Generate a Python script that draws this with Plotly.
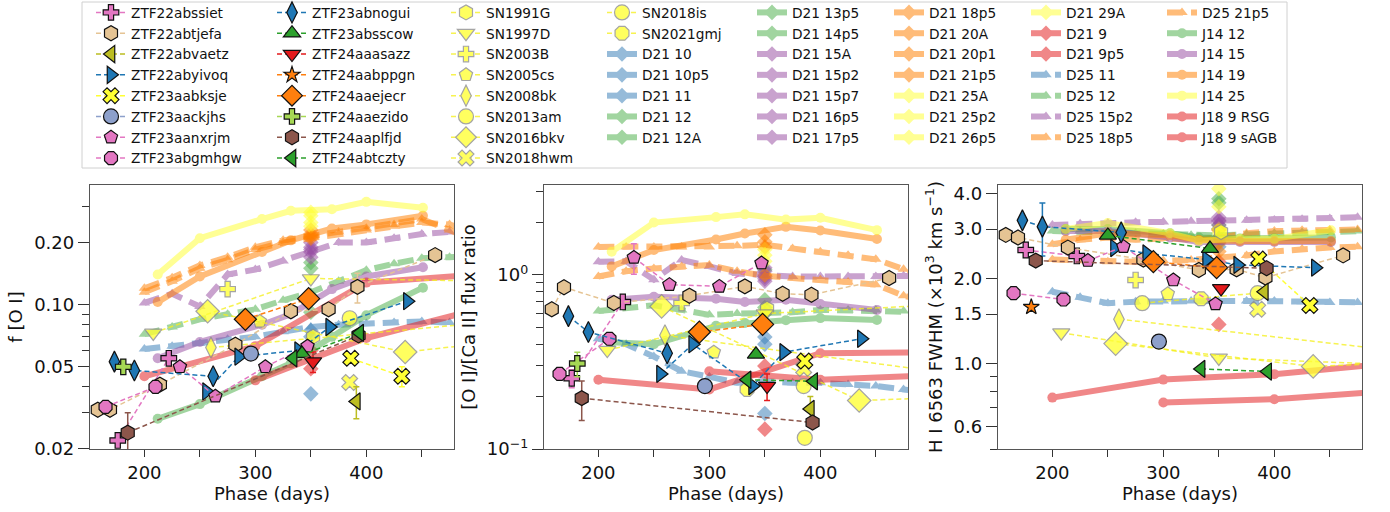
import plotly.graph_objects as go

# ---------------- axis ticks ----------------
PHASE_TICKS = [150, 200, 250, 300, 350, 400, 450]
PHASE_LABELS = ["", "200", "", "300", "", "400", ""]
FOI_TICKS = [0.02, 0.05, 0.10, 0.20]
FOI_LABELS = ["0.02", "0.05", "0.10", "0.20"]
FOI_MINOR = [0.03, 0.04, 0.06, 0.07, 0.08, 0.09, 0.3]
RATIO_TICKS = [0.1, 1.0]
RATIO_LABELS = ["10<sup>\u22121</sup>", "10<sup>0</sup>"]
RATIO_MINOR = [0.2, 0.3, 0.4, 0.5, 0.6, 0.7, 0.8, 0.9, 2, 3]
FWHM_TICKS = [0.6, 1.0, 1.5, 2.0, 3.0, 4.0]
FWHM_LABELS = ["0.6", "1.0", "1.5", "2.0", "3.0", "4.0"]
FWHM_MINOR = [0.5, 0.7, 0.8, 0.9]

# ---------------- observed ZTF SNe ----------------
OBS_PHASE = {
    "ZTF22abssiet": [176, 222],
    "ZTF22abtjefa": [158, 169, 214, 282, 332, 366, 392, 462],
    "ZTF22abvaetz": [391],
    "ZTF22abyivoq": [256, 285, 339, 367, 437],
    "ZTF23aabksje": [386, 432],
    "ZTF23aackjhs": [296],
    "ZTF23aanxrjm": [232, 264, 309, 347],
    "ZTF23abgmhgw": [165, 210],
    "ZTF23abnogui": [173, 191, 262],
    "ZTF23absscow": [250, 342],
    "ZTF24aaasazz": [352],
    "ZTF24aabppgn": [181],
    "ZTF24aaejecr": [291, 348],
    "ZTF24aaezido": [181],
    "ZTF24aaplfjd": [185, 393],
    "ZTF24abtczty": [334, 394],
}
OBS_FOI = {
    "ZTF22abssiet": [0.022, 0.055],
    "ZTF22abtjefa": [0.031, 0.031, 0.041, 0.064, 0.093, 0.095, 0.122, 0.174],
    "ZTF22abvaetz": [0.034],
    "ZTF22abyivoq": [0.038, 0.056, 0.060, 0.078, 0.104],
    "ZTF23aabksje": [0.055, 0.045],
    "ZTF23aackjhs": [0.058],
    "ZTF23aanxrjm": [0.050, 0.036, 0.050, 0.063],
    "ZTF23abgmhgw": [0.032, 0.040],
    "ZTF23abnogui": [0.053, 0.048, 0.045],
    "ZTF23absscow": [None, 0.058],
    "ZTF24aaasazz": [0.053],
    "ZTF24aabppgn": [None],
    "ZTF24aaejecr": [0.085, 0.107],
    "ZTF24aaezido": [0.050],
    "ZTF24aaplfjd": [0.024, 0.071],
    "ZTF24abtczty": [0.055, 0.073],
}
OBS_RATIO = {
    "ZTF22abssiet": [0.255, 0.70],
    "ZTF22abtjefa": [0.635, 0.85, 0.69, 0.76, 0.86, 0.78, 0.77, 0.96],
    "ZTF22abvaetz": [0.17],
    "ZTF22abyivoq": [0.27, 0.40, 0.23, 0.36, 0.43],
    "ZTF23aabksje": [0.32, None],
    "ZTF23aackjhs": [0.23],
    "ZTF23aanxrjm": [1.26, 0.88, 0.86, 1.17],
    "ZTF23abgmhgw": [0.27, 0.43],
    "ZTF23abnogui": [0.58, 0.47, 0.355],
    "ZTF23absscow": [None, 0.35],
    "ZTF24aaasazz": [0.23],
    "ZTF24aabppgn": [None],
    "ZTF24aaejecr": [0.47, 0.52],
    "ZTF24aaezido": [0.31],
    "ZTF24aaplfjd": [0.196, 0.142],
    "ZTF24abtczty": [0.25, 0.245],
}
OBS_FWHM = {
    "ZTF22abssiet": [2.53, 2.41],
    "ZTF22abtjefa": [2.86, 2.80, 2.58, 2.34, 2.15, 2.16, 2.02, 2.42],
    "ZTF22abvaetz": [1.80],
    "ZTF22abyivoq": [2.57, 2.46, 2.34, 2.24, 2.19],
    "ZTF23aabksje": [2.35, 1.61],
    "ZTF23aackjhs": [1.20],
    "ZTF23aanxrjm": [2.32, 2.60, 1.98, 1.63],
    "ZTF23abgmhgw": [1.78, 1.69],
    "ZTF23abnogui": [3.22, 3.06, 2.92],
    "ZTF23absscow": [2.85, 2.56],
    "ZTF24aaasazz": [1.85],
    "ZTF24aabppgn": [1.59],
    "ZTF24aaejecr": [2.30, 2.19],
    "ZTF24aaezido": [None],
    "ZTF24aaplfjd": [2.32, 2.18],
    "ZTF24abtczty": [0.96, 0.94],
}
OBS_FOI_ERR = {
    "ZTF22abtjefa": [None, None, None, None, None, None, 0.02, None],
    "ZTF22abvaetz": [0.006],
    "ZTF23aabksje": [None, 0.005],
    "ZTF24aaplfjd": [0.006, None],
    "ZTF24aaasazz": [0.006],
}
OBS_RATIO_ERR = {
    "ZTF22abssiet": [0.03, None],
    "ZTF24aaplfjd": [0.05, None],
    "ZTF24aaezido": [0.05],
    "ZTF23aanxrjm": [0.25, None, 0.06, None],
    "ZTF22abvaetz": [0.03],
    "ZTF24aaasazz": [0.04],
}
OBS_FWHM_ERR = {
    "ZTF23abnogui": [None, 0.65, None],
}
OBS_STYLE = {
    "ZTF22abssiet": ("#e377c2", "cross", 13),
    "ZTF22abtjefa": ("#e5c494", "hexagon", 15),
    "ZTF22abvaetz": ("#bcbd22", "triangle-left", 15),
    "ZTF22abyivoq": ("#1f77b4", "triangle-right", 15),
    "ZTF23aabksje": ("#ffff33", "x", 14),
    "ZTF23aackjhs": ("#8da0cb", "circle", 15),
    "ZTF23aanxrjm": ("#e377c2", "pentagon", 14),
    "ZTF23abgmhgw": ("#e377c2", "octagon", 14),
    "ZTF23abnogui": ("#1f77b4", "diamond-tall", 15),
    "ZTF23absscow": ("#2ca02c", "triangle-up", 15),
    "ZTF24aaasazz": ("#e41a1c", "triangle-down", 15),
    "ZTF24aabppgn": ("#ff7f0e", "star", 12),
    "ZTF24aaejecr": ("#ff7f0e", "diamond", 17),
    "ZTF24aaezido": ("#a6d854", "cross", 13),
    "ZTF24aaplfjd": ("#8c564b", "hexagon", 15),
    "ZTF24abtczty": ("#2ca02c", "triangle-left", 15),
}

# ---------------- literature SNe ----------------
LIT_PHASE = {
    "SN1991G": [352],
    "SN1997D": [208, 350, 520],
    "SN2003B": [275],
    "SN2005cs": [304],
    "SN2008bk": [260, 540],
    "SN2013am": [281, 385],
    "SN2016bkv": [257, 435, 540],
    "SN2018hwm": [385],
    "SN2018is": [386],
    "SN2021gmj": [334],
}
LIT_FOI = {
    "SN1991G": [0.070],
    "SN1997D": [0.073, 0.134, 0.13],
    "SN2003B": [0.119],
    "SN2005cs": [0.083],
    "SN2008bk": [0.062, 0.085],
    "SN2013am": [None, 0.086],
    "SN2016bkv": [0.093, 0.059, 0.068],
    "SN2018hwm": [0.042],
    "SN2018is": [None],
    "SN2021gmj": [None],
}
LIT_RATIO = {
    "SN1991G": [0.64],
    "SN1997D": [0.37, 0.60, 0.68],
    "SN2003B": [0.69],
    "SN2005cs": [0.36],
    "SN2008bk": [0.45, 0.26],
    "SN2013am": [None, 0.23],
    "SN2016bkv": [0.66, 0.19, 0.20],
    "SN2018hwm": [0.29],
    "SN2018is": [0.116],
    "SN2021gmj": [0.22],
}
LIT_FWHM = {
    "SN1991G": [2.93],
    "SN1997D": [1.29, 1.05, 0.99],
    "SN2003B": [1.98],
    "SN2005cs": [1.77],
    "SN2008bk": [1.44, 1.08],
    "SN2013am": [1.64, 1.78],
    "SN2016bkv": [1.18, 0.98, 1.02],
    "SN2018hwm": [1.56],
    "SN2018is": [None],
    "SN2021gmj": [1.70],
}
LIT_SYMBOL = {
    "SN1991G": ("hexagon", 15), "SN1997D": ("triangle-down", 15),
    "SN2003B": ("cross", 13), "SN2005cs": ("pentagon", 14),
    "SN2008bk": ("diamond-tall", 15), "SN2013am": ("circle", 15),
    "SN2016bkv": ("diamond", 18), "SN2018hwm": ("x", 14),
    "SN2018is": ("circle", 15), "SN2021gmj": ("octagon", 15),
}

# ---------------- models ----------------
D21_NAMES = ["D21 10", "D21 10p5", "D21 11", "D21 12", "D21 12A", "D21 13p5",
             "D21 14p5", "D21 15A", "D21 15p2", "D21 15p7", "D21 16p5",
             "D21 17p5", "D21 18p5", "D21 20A", "D21 20p1", "D21 21p5",
             "D21 25A", "D21 25p2", "D21 26p5", "D21 29A", "D21 9", "D21 9p5"]
D21_PHASE = 350
D21_FOI = [0.037, 0.075, 0.070, 0.092, 0.11, 0.150, 0.160, 0.180, 0.190, 0.200,
           0.185, 0.170, 0.210, 0.220, 0.215, 0.230, 0.250, 0.270, 0.280, 0.240,
           0.049, 0.060]
D21_RATIO = [0.16, 0.44, 0.40, 0.65, 0.60, 0.72, 1.07, 0.98, 0.92, 0.95, 1.05,
             1.10, 1.00, 1.45, 1.55, 1.70, 1.30, 0.62, 1.20, 1.40, 0.13, 0.30]
D21_FWHM = [2.60, 2.70, 2.80, 3.00, 3.10, 3.72, 3.84, 3.22, 3.30, 3.10, 3.00,
            3.20, 2.97, 2.67, 2.80, 2.50, 4.17, 3.60, 3.00, 2.90, 1.38, 2.30]

D25_PHASE = [200, 225, 250, 275, 300, 325, 350, 375, 400, 425, 450, 475, 500]
D25_FOI = {
    "D25 11": [0.061, 0.063, 0.065, 0.068, 0.070, 0.074, 0.078, 0.080, 0.081, 0.082, 0.083, 0.082, 0.081],
    "D25 12": [0.072, 0.078, 0.085, 0.090, 0.095, 0.105, 0.115, 0.130, 0.147, 0.158, 0.168, 0.170, 0.172],
    "D25 15p2": [0.102, 0.113, 0.098, 0.140, 0.148, 0.163, 0.180, 0.200, 0.200, 0.210, 0.220, 0.225, 0.230],
    "D25 18p5": [0.115, 0.130, 0.150, 0.165, 0.185, 0.200, 0.210, 0.220, 0.230, 0.240, 0.250, 0.245, 0.220],
    "D25 21p5": [0.120, 0.135, 0.155, 0.170, 0.190, 0.205, 0.215, 0.225, 0.235, 0.245, 0.260, 0.230, 0.200],
}
D25_RATIO = {
    "D25 11": [0.43, 0.40, 0.34, 0.28, 0.26, 0.24, 0.245, 0.24, 0.24, 0.235, 0.23, 0.22, 0.21],
    "D25 12": [0.62, 0.65, 0.67, 0.63, 0.59, 0.60, 0.60, 0.61, 0.63, 0.63, 0.63, 0.62, 0.61],
    "D25 15p2": [1.19, 1.20, 0.94, 1.22, 1.12, 1.02, 1.00, 0.98, 0.98, 0.98, 0.98, 0.99, 0.99],
    "D25 18p5": [0.98, 1.05, 1.09, 1.12, 1.14, 1.05, 0.99, 0.96, 0.94, 0.91, 0.88, 0.76, 0.70],
    "D25 21p5": [1.45, 1.45, 1.45, 1.45, 1.45, 1.47, 1.49, 1.42, 1.36, 1.30, 1.23, 1.08, 1.00],
}
D25_FWHM = {
    "D25 11": [1.80, 1.72, 1.64, 1.66, 1.67, 1.67, 1.67, 1.67, 1.67, 1.66, 1.65, 1.65, 1.65],
    "D25 12": [2.95, 2.95, 2.92, 2.90, 2.88, 2.85, 2.85, 2.87, 2.90, 2.92, 2.93, 2.95, 2.95],
    "D25 15p2": [3.10, 3.13, 3.15, 3.17, 3.18, 3.20, 3.20, 3.22, 3.23, 3.25, 3.27, 3.30, 3.32],
    "D25 18p5": [2.65, 2.75, 2.80, 2.75, 2.78, 2.75, 2.80, 2.90, 2.95, 2.97, 2.98, 2.99, 3.00],
    "D25 21p5": [2.34, 2.32, 2.30, 2.30, 2.32, 2.33, 2.38, 2.42, 2.50, 2.55, 2.58, 2.60, 2.62],
}

J14_PHASE = [212, 250, 306, 332, 369, 400, 451]
J14_FOI = {
    "J14 12": [0.028, 0.033, 0.045, 0.052, 0.070, 0.089, 0.121],
    "J14 15": [0.055, 0.066, 0.080, 0.090, 0.119, 0.137, 0.152],
    "J14 19": [0.103, 0.137, 0.180, 0.205, 0.234, 0.245, 0.270],
    "J14 25": [0.140, 0.210, 0.260, 0.285, 0.290, 0.315, 0.295],
}
J14_RATIO = {
    "J14 12": [0.41, 0.40, 0.51, 0.53, 0.55, 0.565, 0.552],
    "J14 15": [0.72, 0.75, 0.73, 0.70, 0.72, 0.68, 0.63],
    "J14 19": [1.12, 1.39, 1.60, 1.73, 1.89, 1.80, 1.61],
    "J14 25": [1.36, 2.00, 2.15, 2.23, 2.08, 2.13, 1.81],
}
J14_FWHM = {
    "J14 12": [3.00, 3.00, 2.90, 2.80, 2.78, 2.78, 2.80],
    "J14 15": [2.95, 2.95, 2.80, 2.70, 2.70, 2.70, 2.70],
    "J14 19": [2.75, 2.90, 2.85, 2.75, 2.72, 2.72, 2.72],
    "J14 25": [3.00, 3.15, 2.90, 2.73, 2.77, 2.77, 2.97],
}

J18_PHASE = {"J18 9 RSG": [200, 300, 400, 500], "J18 9 sAGB": [300, 400, 500]}
J18_FOI = {"J18 9 RSG": [0.045, 0.063, 0.128, 0.140], "J18 9 sAGB": [0.043, 0.069, 0.095]}
J18_RATIO = {"J18 9 RSG": [0.25, 0.22, 0.355, 0.36], "J18 9 sAGB": [0.28, 0.25, 0.265]}
J18_FWHM = {"J18 9 RSG": [0.76, 0.88, 0.92, 1.00], "J18 9 sAGB": [0.73, 0.75, 0.80]}

MODEL_COLOR = {
    "9": "#e41a1c", "9p5": "#e41a1c", "9 RSG": "#e41a1c", "9 sAGB": "#e41a1c",
    "10": "#377eb8", "10p5": "#377eb8", "11": "#377eb8",
    "12": "#4daf4a", "12A": "#4daf4a", "13p5": "#4daf4a", "14p5": "#4daf4a",
    "15": "#984ea3", "15A": "#984ea3", "15p2": "#984ea3", "15p7": "#984ea3",
    "16p5": "#984ea3", "17p5": "#984ea3",
    "18p5": "#ff7f00", "19": "#ff7f00", "20A": "#ff7f00", "20p1": "#ff7f00", "21p5": "#ff7f00",
    "25": "#ffff33", "25A": "#ffff33", "25p2": "#ffff33", "26p5": "#ffff33", "29A": "#ffff33",
}

LEGEND_ORDER = (list(OBS_PHASE) + list(LIT_PHASE) + D21_NAMES + list(D25_FOI)
                + list(J14_FOI) + list(J18_FOI))

# ---------------- figure ----------------
W, H = 1390, 512
fig = go.Figure()
AX = ["x", "x2", "x3"]
AY = ["y", "y2", "y3"]


def legend_for(name):
    i = LEGEND_ORDER.index(name)
    col = i // 8 if i < 24 else 3 + (i - 24) // 7
    return "legend" if col == 0 else "legend%d" % (col + 1)


def add(name, x, y, panel, color, symbol, size, line, marker_line, opacity,
        err=None):
    if isinstance(x, (int, float)):
        x = [x]
        y = [y]
    tr = dict(
        x=x, y=y, name=name, mode="lines+markers", connectgaps=True,
        xaxis=AX[panel], yaxis=AY[panel], opacity=opacity,
        line=line, marker=dict(color=color, symbol=symbol, size=size, line=marker_line),
        legendgroup=name, showlegend=(panel == 0), legend=legend_for(name),
        legendrank=LEGEND_ORDER.index(name) + 1,
    )
    if err is not None:
        tr["error_y"] = dict(type="data", array=err, symmetric=True, color=color,
                             thickness=1.5, width=3)
    fig.add_trace(go.Scatter(**tr))


MODEL_ALPHA = 0.52
# models first (drawn underneath)
for i, n in enumerate(D21_NAMES):
    c = MODEL_COLOR[n.split(" ", 1)[1]]
    for p, vals in enumerate([D21_FOI, D21_RATIO, D21_FWHM]):
        add(n, D21_PHASE, vals[i], p, c, "diamond", 12,
            dict(color=c, width=6), dict(width=0), MODEL_ALPHA)
for n in D25_FOI:
    c = MODEL_COLOR[n.split(" ", 1)[1]]
    for p, d in enumerate([D25_FOI, D25_RATIO, D25_FWHM]):
        add(n, D25_PHASE, d[n], p, c, "triangle-up", 10,
            dict(color=c, width=6, dash="16px,8px"), dict(width=0), MODEL_ALPHA)
for n in J14_FOI:
    c = MODEL_COLOR[n.split(" ", 1)[1]]
    for p, d in enumerate([J14_FOI, J14_RATIO, J14_FWHM]):
        add(n, J14_PHASE, d[n], p, c, "circle", 10,
            dict(color=c, width=6), dict(width=0), MODEL_ALPHA)
for n in J18_FOI:
    c = MODEL_COLOR[n.split(" ", 1)[1]]
    for p, d in enumerate([J18_FOI, J18_RATIO, J18_FWHM]):
        add(n, J18_PHASE[n], d[n], p, c, "circle", 10,
            dict(color=c, width=6), dict(width=0), MODEL_ALPHA)

# literature SNe
for n in LIT_PHASE:
    sym, sz = LIT_SYMBOL[n]
    for p, d in enumerate([LIT_FOI, LIT_RATIO, LIT_FWHM]):
        add(n, LIT_PHASE[n], d[n], p, "#ffff33", sym, sz,
            dict(color="#f5f020", width=1.5, dash="5px,3px"),
            dict(color="#8c8c8c", width=1.2), 0.78)

# observed ZTF SNe
for n in OBS_PHASE:
    c, sym, sz = OBS_STYLE[n]
    for p, (d, e) in enumerate([(OBS_FOI, OBS_FOI_ERR), (OBS_RATIO, OBS_RATIO_ERR),
                                (OBS_FWHM, OBS_FWHM_ERR)]):
        add(n, OBS_PHASE[n], d[n], p, c, sym, sz,
            dict(color=c, width=1.5, dash="5px,3px"),
            dict(color="#111111", width=1.2), 1.0, err=e.get(n))

FONT = "DejaVu Sans"
TICKFONT = dict(family=FONT, size=18, color="#111")
XDOM = [[90 / W, 454 / W], [544 / W, 908 / W], [998 / W, 1362 / W]]
YDOM = [1 - 449 / H, 1 - 185 / H]


def xaxis(i):
    return dict(domain=XDOM[i], range=[151, 479], tickmode="array",
                tickvals=PHASE_TICKS, ticktext=PHASE_LABELS, ticks="outside",
                ticklen=7, tickwidth=1.3, tickcolor="#333", showline=True,
                linecolor="#555", linewidth=1.3, mirror=True, showgrid=False,
                zeroline=False, anchor=AY[i], tickfont=TICKFONT,
                title=dict(text="Phase (days)", font=dict(family=FONT, size=18, color="#111"),
                           standoff=5), automargin=False)


def yaxis(i, rng, tv, tt, minor, title):
    return dict(domain=YDOM, type="log", range=rng, tickmode="array",
                tickvals=tv, ticktext=tt, ticks="outside", ticklen=11,
                tickwidth=1.3, tickcolor="#333", showline=True, linecolor="#555",
                linewidth=1.3, mirror=True, showgrid=False, zeroline=False,
                anchor=AX[i], tickfont=TICKFONT,
                minor=dict(tickmode="array", tickvals=minor, ticks="outside",
                           ticklen=7, tickwidth=1.1, tickcolor="#333", showgrid=False),
                title=dict(text=title, font=dict(family=FONT, size=18, color="#111"),
                           standoff=6), automargin=False)


legend_text_x = [132, 313, 487, 643, 793, 930, 1067, 1203]
layout = dict(
    width=W, height=H, margin=dict(l=0, r=0, t=0, b=0, autoexpand=False),
    paper_bgcolor="white", plot_bgcolor="white",
    font=dict(family=FONT, size=14, color="#111"),
    xaxis=xaxis(0), xaxis2=xaxis(1), xaxis3=xaxis(2),
    yaxis=yaxis(0, [-1.699, -0.42], FOI_TICKS, FOI_LABELS, FOI_MINOR, "f [O I]"),
    yaxis2=yaxis(1, [-1.0, 0.517], RATIO_TICKS, RATIO_LABELS, RATIO_MINOR,
                 "[O I]/[Ca II] flux ratio"),
    yaxis3=yaxis(2, [-0.301, 0.633], FWHM_TICKS, FWHM_LABELS, FWHM_MINOR,
                 "H I 6563 FWHM (\u00d710<sup>3</sup> km s<sup>\u22121</sup>)"),
    shapes=[dict(type="rect", xref="paper", yref="paper", x0=82 / W, x1=1287 / W,
                 y0=1 - 168 / H, y1=1 - 2 / H, line=dict(color="#d0d0d0", width=1),
                 fillcolor="rgba(255,255,255,0)", layer="below")],
    showlegend=True,
)
for k, tx in enumerate(legend_text_x):
    key = "legend" if k == 0 else "legend%d" % (k + 1)
    layout[key] = dict(x=(tx - 41) / W, y=1 + 3 / H, xanchor="left", yanchor="top",
                       bgcolor="rgba(0,0,0,0)", borderwidth=0, tracegroupgap=0,
                       itemwidth=30, font=dict(family=FONT, size=13.7, color="#111"),
                       orientation="v", itemclick=False, itemdoubleclick=False)
fig.update_layout(**layout)
fig.write_html("out.html", config={"displayModeBar": False},
               post_script="document.body.style.margin='0px';document.body.style.overflow='hidden';")
